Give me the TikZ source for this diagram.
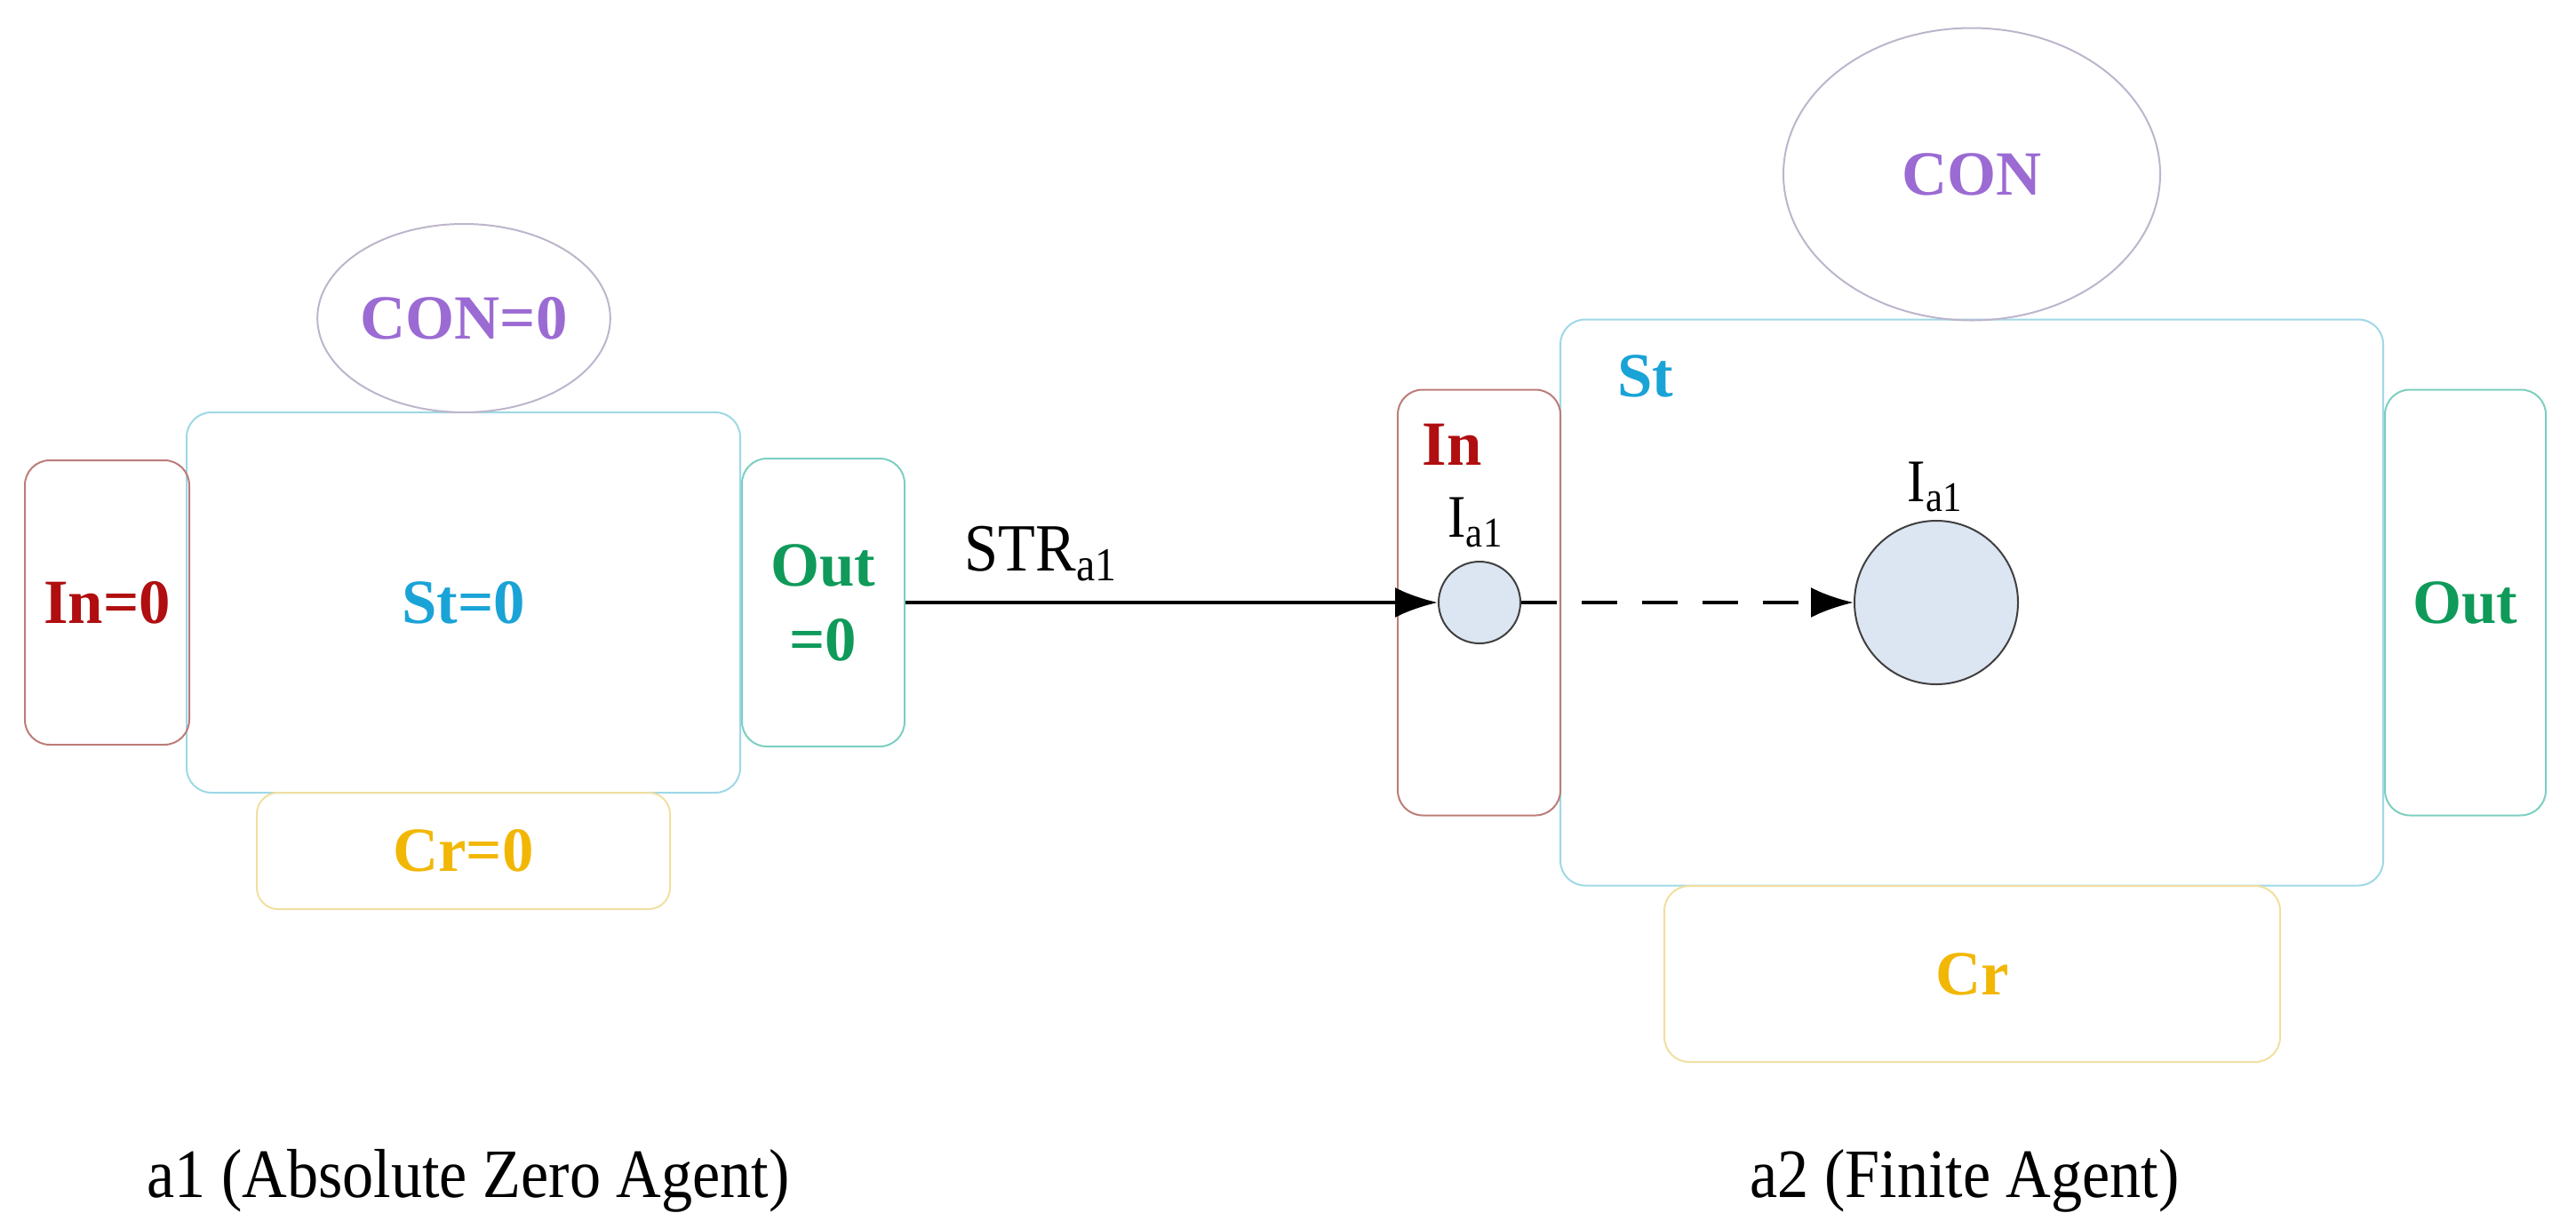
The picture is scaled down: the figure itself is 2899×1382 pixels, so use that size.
\documentclass[tikz,border=0pt]{standalone}
\usepackage{fontspec}
\setmainfont{Liberation Serif}
\newfontfamily\narrowserif{Liberation Serif}[FakeStretch=0.9]
\usepackage{tikz}
\usetikzlibrary{arrows.meta,positioning,shapes.geometric}
\definecolor{inline}{HTML}{BC7D78}
\definecolor{intext}{HTML}{B00E10}
\definecolor{stline}{HTML}{9ED8E6}
\definecolor{sttext}{HTML}{1AA3D6}
\definecolor{outline}{HTML}{7CCFC0}
\definecolor{outtext}{HTML}{0F9A5A}
\definecolor{conline}{HTML}{BDB5CC}
\definecolor{context}{HTML}{9B6BD3}
\definecolor{crline}{HTML}{F1DFA0}
\definecolor{crtext}{HTML}{F2B705}
\definecolor{ballfill}{HTML}{DCE6F2}

\begin{document}
\begin{tikzpicture}[x=0.25pt,y=-0.25pt,
  part/.style={draw, rounded corners=7pt, line width=0.5pt, inner sep=0pt, align=center},
  conoval/.style={ellipse, draw=conline, line width=0.5pt, inner sep=0pt, text=context},
  ball/.style={circle, draw=black!75, fill=ballfill, line width=0.5pt, inner sep=0pt},
  tag/.style={font=\fontsize{17.7}{21}\selectfont\bfseries},
  plain/.style={font=\narrowserif\fontsize{19}{22}\selectfont},
  flow/.style={line width=1.1pt, -{Latex[length=12pt,width=8.5pt]}}]
  \useasboundingbox (0,0) rectangle (2899,1382);

  % a1: the absolute zero agent
  \node[part, draw=stline, text=sttext, tag, minimum width=155.75pt, minimum height=107pt] (stA) at (521.5,678) {St=0};
  \node[part, draw=inline, text=intext, tag, minimum width=46.25pt, minimum height=80pt] (inA) at (120.5,678) {In=0};
  \node[part, draw=outline, text=outtext, tag, minimum width=45.75pt, minimum height=81pt] (outA) at (926.5,678) {Out\\=0};
  \node[part, draw=crline, text=crtext, tag, rounded corners=6pt, minimum width=116.25pt, minimum height=32.75pt] (crA) at (521.5,957.5) {Cr=0};
  \node[conoval, tag, minimum width=70.5pt, minimum height=53pt] (conA) at (522,358) {CON=0};

  % a2: the finite agent
  \node[part, draw=stline, minimum width=231.5pt, minimum height=159.25pt] (stB) at (2219,678) {};
  \node[part, draw=inline, minimum width=45.75pt, minimum height=119.75pt] (inB) at (1664.5,678) {};
  \node[part, draw=outline, text=outtext, tag, minimum width=45.25pt, minimum height=119.75pt] (outB) at (2774.5,678) {Out};
  \node[part, draw=crline, text=crtext, tag, minimum width=173.25pt, minimum height=49.5pt] (crB) at (2219.5,1096) {Cr};
  \node[conoval, tag, minimum width=106pt, minimum height=82.25pt] (conB) at (2219,196) {CON};
  \node[tag, text=sttext] (stBtag) at (1852,423) {St};
  \node[tag, text=intext] (inBtag) at (1634,500) {In};

  % the information I_a1
  \node[ball, minimum size=23pt] (iIn) at (1665,678) {};
  \node[ball, minimum size=46pt] (iSt) at (2179,678) {};
  \node[plain, font=\narrowserif\fontsize{17}{20}\selectfont] (iInlabel) at (1661,588) {I\textsubscript{a1}};
  \node[plain, font=\narrowserif\fontsize{17}{20}\selectfont] (iStlabel) at (2178,548) {I\textsubscript{a1}};

  % transfer
  \draw[flow] (outA.east) -- (iIn.west);
  \draw[flow, dash pattern=on 10pt off 7pt] (iIn.east) -- (iSt.west);
  \node[plain, anchor=base] (strlabel) at (1172,642) {STR\textsubscript{a1}};

  % captions
  \node[plain, font=\narrowserif\fontsize{19.5}{23}\selectfont, anchor=base] (capA) at (527,1347) {a1 (Absolute Zero Agent)};
  \node[plain, font=\narrowserif\fontsize{19.5}{23}\selectfont, anchor=base] (capB) at (2211,1347) {a2 (Finite Agent)};
\end{tikzpicture}
\end{document}
